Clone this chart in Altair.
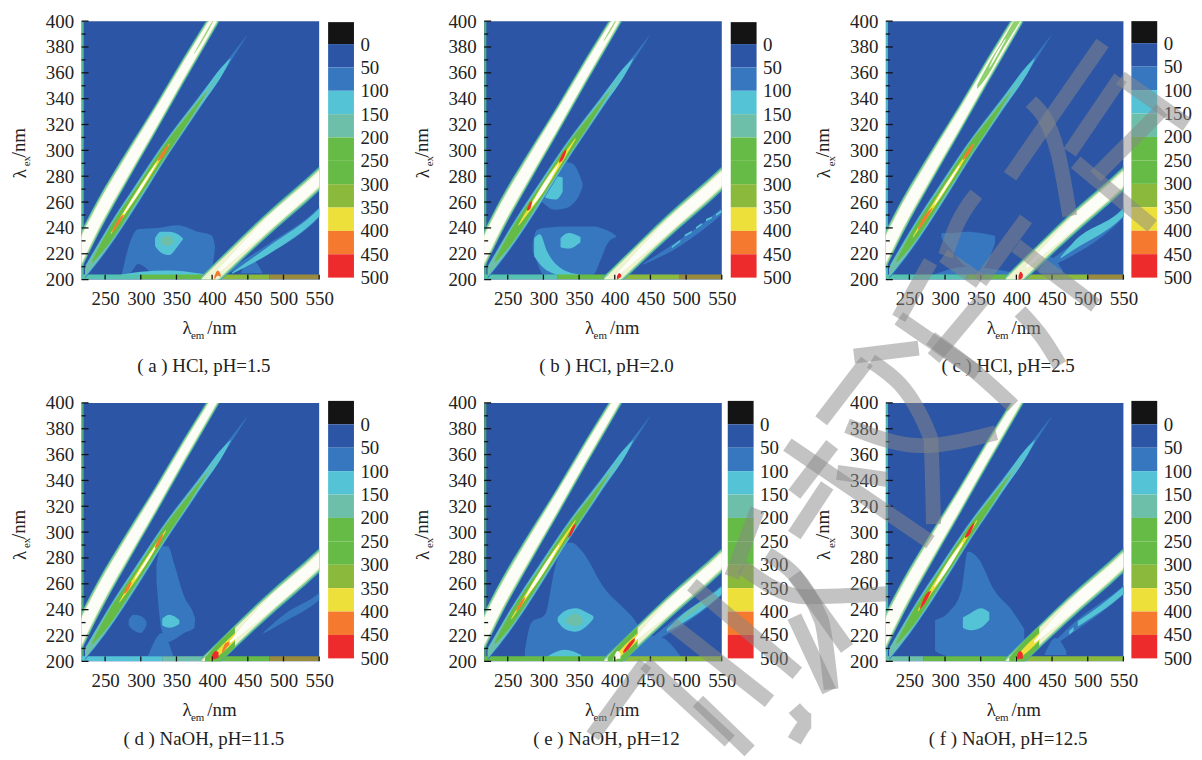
import altair as alt

alt.data_transformers.disable_max_rows()

FONT = "Liberation Serif"
BG = "#2c55a6"
LEVELS = [-50, 0, 50, 100, 150, 200, 250, 300, 350, 400, 450, 500]
BAND_COLORS = ["#141414", "#2c55a6", "#3677c0", "#55c3d6", "#6dbfa9", "#66bb46",
               "#66bb46", "#8ab93c", "#eee03a", "#f5792e", "#ed2b2c"]
LEVEL_TICKS = [0, 50, 100, 150, 200, 250, 300, 350, 400, 450, 500]
X_TICKS = [250, 300, 350, 400, 450, 500, 550]
Y_TICKS = [200, 220, 240, 260, 280, 300, 320, 340, 360, 380, 400]
Y_MINOR = [210, 230, 250, 270, 290, 310, 330, 350, 370, 390]
CAPTIONS = ["( a ) HCl, pH=1.5", "( b ) HCl, pH=2.0", "( c ) HCl, pH=2.5",
            "( d ) NaOH, pH=11.5", "( e ) NaOH, pH=12", "( f ) NaOH, pH=12.5"]

LB, CY, TE, GR, OL, YE, OR, RE, WH, PA = ("#3677c0", "#55c3d6", "#6dbfa9", "#66bb46", "#8ab93c",
                                          "#eee03a", "#f5792e", "#ed2b2c", "#fdfdf8", "#eef3d0")
RING_OUT, RING_MID = "#3fa8a8", "#8ccf9a"

A_EM = [215, 241, 280, 320, 360, 401, 425]
A_C = [221, 249.5, 287, 324, 362, 400, 423]
A_OUT = [15, 14, 12.5, 11, 10, 9, 9]
A_MID = [13.8, 12.8, 11.3, 9.8, 8.8, 7.8, 7.8]
A_PALE = [11.5, 10.5, 9.5, 8.2, 7.2, 6, 6]
A_CORE = [10, 9, 8, 7, 6, 4.8, 4.8]
B_EM = [222, 250, 300, 328, 380, 421, 449]
B_C = [206, 229, 271, 295, 335.5, 367, 389]
B_LB = [5, 8.5, 9, 8, 5.5, 2.5, 0.2]
B_CY_EM = [222, 250, 300, 328, 380, 421, 426]
B_CY_C = [206, 229, 271, 295, 335.5, 367, 371]
B_CY = [4, 7.5, 8, 7, 4.5, 1.8, 0.2]
B_TE_EM = [222, 250, 300, 328, 380, 395, 408]
B_TE_C = [206, 229, 271, 295, 335.5, 347, 357]
B_TE = [3.5, 6.5, 7, 6.3, 3.2, 1.5, 0.3]
B_GR_EM = [232, 250, 300, 328, 370, 392]
B_GR_C = [214, 229, 271, 295, 327.5, 345]
B_GR = [1, 5, 5.5, 5.3, 2.5, 0.3]
C_EM = [385, 400, 472, 550, 565]
C_C = [194, 202, 240, 278, 286]
C_OUT = [9, 9, 9.5, 9.5, 9.5]
C_MID = [8, 8, 8.3, 8.3, 8.3]
C_PALE = [6.5, 6.5, 6.8, 6.8, 6.8]


def rib(color, em, cen, half):
    return {"c": color, "em": em, "lo": [a - b for a, b in zip(cen, half)], "hi": [a + b for a, b in zip(cen, half)]}


def blob(color, em, lo, hi):
    return {"c": color, "em": em, "lo": lo, "hi": hi}


def strip(color, em0, em1):
    return blob(color, [em0, em1], [200, 200], [204, 204])


BLOBS = [
    [
        blob(LB, [273, 287, 296, 324, 352, 380, 400, 404], [203, 206, 212, 203, 203, 203, 210, 225],
             [203, 232, 239, 240, 242, 237, 234, 226]),
        blob(CY, [320, 328, 340, 352, 359], [226, 221, 219, 226, 231], [232, 237, 237, 235, 232]),
        blob(TE, [328, 338, 346], [228, 226, 229], [232, 234, 232]),
        blob(CY, [273, 300, 340, 380, 392], [203, 203, 203, 203, 203], [204, 206, 207, 205, 204]),
        blob(LB, [440, 455, 470], [205, 205, 205], [205, 216, 206]),
    ],
    [
        blob(LB, [292, 300, 315, 330, 340, 350, 355], [263, 259, 254, 255, 258, 265, 272], [264, 275, 285, 291, 290, 282, 274]),
        blob(CY, [296, 305, 318, 327], [270, 263, 262, 268], [271, 278, 280, 279]),
        blob(LB, [285, 290, 300, 340, 370, 380, 390, 402], [222, 215, 204, 203, 204, 215, 228, 233],
             [228, 238, 240, 241, 241, 240, 238, 234]),
        blob(CY, [287, 295, 305, 330, 350], [218, 212, 207, 203, 203], [232, 235, 222, 207, 204]),
        blob(CY, [324, 335, 352], [225, 224, 229], [232, 236, 233]),
    ],
    [
        blob(LB, [295, 310, 330, 350, 370], [232, 222, 210, 208, 228], [236, 236, 237, 236, 234]),
        blob(LB, [280, 330, 400], [203, 203, 203], [203, 210, 205]),
        blob(LB, [432, 445, 465], [205, 205, 205], [206, 218, 207]),
    ],
    [
        blob(LB, [322, 329, 338, 347, 361, 375, 376], [262, 225, 215, 217, 222, 226, 232], [275, 289, 289, 275, 250, 235, 233]),
        blob(LB, [283, 290, 300, 308], [228, 224, 222, 228], [232, 236, 235, 231]),
        blob(LB, [310, 330, 345], [204, 204, 204], [204, 222, 205]),
        blob(CY, [330, 340, 354], [228, 226, 229], [233, 236, 232]),
    ],
    [
        blob(LB, [274, 283, 302, 316, 327, 339, 353, 385, 422, 445, 468, 492], [203] * 12,
             [208, 230, 236, 272, 290, 292, 286, 257, 236, 221, 218, 204]),
        blob(CY, [320, 330, 345, 360, 370], [231, 225, 223, 227, 233], [234, 239, 241, 238, 235]),
        blob(TE, [332, 345, 355], [230, 227, 230], [233, 237, 233]),
        blob(CY, [306, 330, 353], [203, 203, 203], [204, 209, 205]),
    ],
    [
        blob(LB, [286, 305, 323, 332, 346, 369, 393, 411], [208, 204, 204, 204, 204, 204, 204, 205],
             [232, 238, 255, 285, 280, 255, 240, 225]),
        blob(CY, [325, 335, 350, 362], [226, 224, 226, 232], [234, 237, 241, 238]),
        blob(LB, [440, 455, 470], [205, 205, 205], [206, 218, 208]),
    ],
]

CORES = [
    [rib(YE, [258, 300, 340], [235.5, 271, 305], [0.6, 2.5, 0.6]), rib(WH, [275, 300, 322], [250, 271, 290], [0.6, 1.8, 0.6]),
     rib(OR, [260, 268, 276], [237, 244, 250], [0.6, 2, 0.6]), rib(OR, [324, 332, 339], [292, 298, 304], [0.6, 2.2, 0.6])],
    [rib(YE, [265, 300, 345], [242, 271, 309], [0.6, 3.5, 0.6]), rib(WH, [282, 300, 321], [256, 271, 289], [0.6, 3, 0.6]),
     rib(RE, [277, 281, 284], [254, 257, 260], [0.6, 2.5, 0.6]), rib(RE, [322, 328, 332], [291, 296, 300], [0.6, 2.5, 0.6])],
    [rib(YE, [255, 300, 340], [233, 271, 305], [0.6, 2.5, 0.6]), rib(WH, [285, 300, 320], [258, 271, 288], [0.6, 1.6, 0.6]),
     rib(OR, [262, 270, 282], [239, 246, 255], [0.6, 2.2, 0.6]), rib(OR, [325, 333, 340], [293, 299, 305], [0.6, 2.2, 0.6])],
    [rib(YE, [270, 300, 335], [246, 271, 301], [0.6, 2.5, 0.6]), rib(WH, [292, 305, 320], [264, 275, 288], [0.6, 1.5, 0.6]),
     rib(OR, [277, 282, 287], [253, 257, 261], [0.6, 2.3, 0.6]), rib(OR, [320, 326, 331], [288, 293, 298], [0.6, 2.3, 0.6])],
    [rib(YE, [255, 300, 345], [233, 271, 309], [0.6, 3, 0.6]), rib(WH, [275, 300, 322], [250, 271, 290], [0.6, 2.5, 0.6]),
     rib(OR, [262, 268, 274], [239, 244, 249], [0.6, 2, 0.6]), rib(RE, [335, 340, 345], [296, 301, 306], [0.6, 2.3, 0.6])],
    [rib(YE, [262, 300, 345], [239, 271, 309], [0.6, 3.2, 0.6]), rib(WH, [285, 305, 325], [258, 275, 292], [0.6, 2.8, 0.6]),
     rib(RE, [265, 272, 280], [241, 248, 254], [0.6, 2.8, 0.6]), rib(RE, [328, 335, 341], [296, 301, 307], [0.6, 2.5, 0.6])],
]

A_CORE_PANEL = [
    [rib("#a5d87a", [375, 395, 405], [375, 394, 404], [0.5, 1.2, 0.5])],
    [rib("#a5d87a", [385, 398, 405], [385, 397, 404], [0.5, 1.2, 0.5])],
    [rib("#8fd070", [345, 360, 378, 405], [349, 362, 379, 404], [1.5, 4, 3.5, 4.5]),
     rib(WH, [362, 372, 385], [364, 374, 386], [0.5, 1.5, 0.5])],
    [],
    [],
    [],
]
C_START = [404, 402, 414, 425, 428, 425]
C_START_Y = [204, 203, 209.5, 215, 216.6, 215]
C_LOW = [
    [rib(OR, [403, 408, 412], [201, 205, 203], [1.5, 2, 1])],
    [rib(RE, [403, 406, 409], [201, 203, 203], [1.5, 2, 1])],
    [rib(RE, [403, 406, 409], [201, 203, 203], [2, 3, 1])],
    [rib(GR, [390, 415, 432], [197, 210, 219], [6, 8, 8]), rib(YE, [398, 415, 432], [201, 210, 219], [1.5, 3, 3]),
     rib(RE, [400, 405, 409], [203, 205, 205], [2, 3, 2]), rib(OR, [414, 419, 424], [207, 212, 214], [1, 2.2, 1])],
    [rib(GR, [390, 415, 432], [197, 210, 219], [6, 8, 8]), rib(YE, [398, 415, 432], [201, 210, 219], [1.5, 3, 3]),
     rib(WH, [400, 404, 408], [203, 205, 204], [2, 3, 2]), rib(RE, [412, 420, 428], [207, 212, 217], [1, 2.2, 1])],
    [rib(GR, [390, 415, 432], [197, 210, 219], [6, 8, 8]), rib(YE, [398, 415, 432], [201, 210, 219], [1.5, 3, 3]),
     rib(RE, [401, 405, 409], [203, 205, 204], [2, 3, 2])],
]
D_RIBS = [
    [rib(LB, [418, 480, 550, 560], [205, 224, 252, 258], [1, 4, 4, 4]), rib(CY, [428, 480, 550, 560], [205, 223, 252, 258], [0.5, 3, 3, 3])],
    [rib(LB, [440, 490, 550, 560], [212, 228, 253, 258], [0.5, 2.5, 2.5, 2.5]), rib(CY, [480, 492], [225, 230], [0.8, 0.8]),
     rib(CY, [498, 508], [234, 237], [0.8, 0.8]), rib(CY, [514, 522], [240, 243], [0.8, 0.8]), rib(CY, [528, 536], [246, 248], [0.8, 0.8]),
     rib(CY, [542, 550], [250, 253], [0.8, 0.8])],
    [rib(LB, [432, 470, 550, 560], [208, 220, 252, 258], [1, 4, 4, 4]), rib(CY, [462, 480, 550, 560], [217, 226, 252, 258], [0.5, 3, 3, 3])],
    [rib(LB, [472, 500, 550, 560], [222, 233, 250, 255], [0.5, 2.8, 2.8, 2.8])],
    [rib(LB, [440, 480, 550, 560], [212, 227, 255, 260], [0.5, 4, 4, 4]), rib(CY, [473, 490, 550, 560], [224, 231, 255, 260], [1, 3, 3, 3]),
     rib(TE, [490, 510, 535], [231, 240, 249], [0.5, 1.8, 0.5])],
    [rib(LB, [445, 480, 550, 560], [210, 226, 255, 260], [0.5, 3.5, 3.5, 3.5]), rib(CY, [474, 480], [222, 225], [1.5, 1.5]),
     rib(CY, [486, 550, 560], [229, 255, 260], [2, 2.8, 2.8])],
]
BOTTOM = [
    [("#55c3b0", 217, 300), (GR, 300, 395), (OL, 395, 480), ("#9a8a3c", 480, 550)],
    [("#55c3b0", 217, 320), (GR, 320, 395), (OL, 395, 490), ("#9a8a3c", 490, 550)],
    [("#55c3b0", 217, 330), (GR, 330, 400), (OL, 400, 500), ("#9a8a3c", 500, 550)],
    [(CY, 217, 330), (TE, 330, 390), (GR, 390, 480), ("#9a8a3c", 480, 550)],
    [(GR, 217, 400), (OL, 400, 550)],
    [(TE, 217, 270), (GR, 270, 400), (OL, 400, 550)],
]
LEFT_COLOR = ["#54b89a", "#54b07a", "#4fb8c0", "#4fa878", "#4fa060", "#4fb8b0"]

WM = [
    [(1110, 43), (1017, 177)],
    [(1038, 102), (1065, 153), (1077, 217)],
    [(1128, 78), (1077, 153)],
    [(1128, 78), (1195, 125)],
    [(1083, 163), (1160, 227)],
    [(1170, 110), (1103, 177)],
    [(983, 195), (963, 227), (952, 257)],
    [(1033, 220), (987, 283)],
    [(950, 257), (987, 283)],
    [(1023, 247), (1103, 307)],
    [(937, 263), (905, 320)],
    [(905, 320), (985, 375)],
    [(990, 300), (940, 360)],
    [(1027, 313), (1050, 340), (1067, 367)],
    [(873, 363), (827, 423)],
    [(877, 363), (937, 440), (940, 527)],
    [(853, 428), (927, 448), (1003, 435)],
    [(937, 340), (980, 372), (1020, 408)],
    [(838, 447), (800, 497)],
    [(793, 447), (937, 545)],
    [(843, 475), (893, 482)],
    [(747, 570), (810, 600), (893, 597)],
    [(763, 512), (737, 580)],
    [(773, 557), (827, 623), (837, 693)],
    [(697, 588), (803, 677)],
    [(677, 628), (775, 705)],
    [(650, 667), (597, 740)],
    [(650, 667), (735, 745)],
    [(703, 705), (755, 755)],
    [(833, 488), (800, 538)],
    [(800, 578), (853, 652)],
    [(800, 620), (835, 695)],
    [(800, 712), (817, 725), (800, 745)],
    [(860, 358), (925, 350)],
]
WM_LEFT, WM_TOP = 1139, 405

PLOT_W, PLOT_H, BAR_W = 239, 260, 26
BAR_DX = [0, 0, 0, 0, -3, 0]
BAR_RANGE = [[1, 258], [1, 258], [0, 258], [-2, 257], [-2, 257], [-2, 257]]
BAR_LOW = [-47, -47, -47, -50, -50, -50]
CAP_Y = [347, 347, 347, 338.5, 338.5, 338.5]


def shapes_for(i):
    out = [blob(LEFT_COLOR[i], [217, 220], [200, 200], [400, 400])]
    out += BLOBS[i]
    for c, a, b in BOTTOM[i]:
        out.append(strip(c, a, b))
    out += [rib(RING_OUT, A_EM, A_C, A_OUT), rib(RING_MID, A_EM, A_C, A_MID), rib(PA, A_EM, A_C, A_PALE), rib(WH, A_EM, A_C, A_CORE)]
    out += A_CORE_PANEL[i]
    out += [rib(LB, B_EM, B_C, B_LB), rib(CY, B_CY_EM, B_CY_C, B_CY), rib(TE, B_TE_EM, B_TE_C, B_TE), rib(GR, B_GR_EM, B_GR_C, B_GR)]
    out += CORES[i]
    out += D_RIBS[i]
    out += [rib(RING_OUT, C_EM, C_C, C_OUT), rib(RING_MID, C_EM, C_C, C_MID), rib(PA, C_EM, C_C, C_PALE)]
    out += C_LOW[i][:2] if i > 2 else []
    out.append(rib(WH, [C_START[i], 472, 550, 565], [C_START_Y[i], 240, 278, 286], [1, 5.2, 5.2, 5.2]))
    out += C_LOW[i][2:] if i > 2 else C_LOW[i]
    return out


def rows_for(i):
    rows = []
    for k, sh in enumerate(shapes_for(i)):
        for e, l, h in zip(sh["em"], sh["lo"], sh["hi"]):
            rows.append({"s": f"{k:03d}", "c": sh["c"], "em": e, "lo": l, "hi": h})
    return rows


XS = alt.Scale(domain=[217, 550], nice=False, zero=False)
YS = alt.Scale(domain=[200, 400], nice=False, zero=False)
XAXIS = alt.Axis(values=X_TICKS, labelFont=FONT, labelFontSize=19, labelColor="#222", tickSize=0, labelFlush=False,
                 domain=False, grid=False, title=None, labelPadding=10, labelOverlap=False)
YAXIS = alt.Axis(values=Y_TICKS, labelFont=FONT, labelFontSize=19, labelColor="#222", tickSize=0, labelFlush=False,
                 domain=False, grid=False, title=None, labelPadding=8, labelOverlap=False)


def label(txt, x, y, size=19, angle=0, align="left"):
    return alt.Chart(alt.Data(values=[{"a": 1}])).mark_text(text=txt, font=FONT, fontSize=size, angle=angle, color="#222",
                                                             align=align, baseline="middle").encode(
        x=alt.value(x), y=alt.value(y))


def plot_panel(i):
    bg = alt.Chart(alt.Data(values=[{"x": 217, "x2": 550, "y": 200, "y2": 400}])).mark_rect(color=BG).encode(
        x=alt.X("x:Q", scale=XS, axis=XAXIS), x2="x2:Q", y=alt.Y("y:Q", scale=YS, axis=YAXIS), y2="y2:Q")
    area = alt.Chart(alt.Data(values=rows_for(i))).mark_area(clip=True, interpolate="monotone").encode(
        x=alt.X("em:Q", scale=XS, axis=XAXIS), y=alt.Y("lo:Q", scale=YS, axis=YAXIS), y2="hi:Q",
        color=alt.Color("c:N", scale=None, legend=None), detail="s:N")
    ty = alt.Chart(alt.Data(values=[{"y": v} for v in Y_TICKS])).mark_rule(color="#111", strokeWidth=1.3).encode(
        x=alt.value(0), x2=alt.value(7), y=alt.Y("y:Q", scale=YS, axis=YAXIS))
    tm = alt.Chart(alt.Data(values=[{"y": v} for v in Y_MINOR])).mark_rule(color="#111", strokeWidth=1.3).encode(
        x=alt.value(0), x2=alt.value(4), y=alt.Y("y:Q", scale=YS, axis=YAXIS))
    tx = alt.Chart(alt.Data(values=[{"x": v} for v in X_TICKS])).mark_rule(color="#111", strokeWidth=1.3).encode(
        x=alt.X("x:Q", scale=XS, axis=XAXIS), y=alt.value(PLOT_H), y2=alt.value(PLOT_H - 5))
    txts = [
        label("λ", 101.5, 49 + PLOT_H, 19), label("em", 110, 57 + PLOT_H, 11), label("/nm", 126.5, 49 + PLOT_H, 19),
        label("λ", -62, 158, 19, 270), label("ex", -54.5, 146, 11, 270), label("/nm", -63, 137, 19, 270),
        label(CAPTIONS[i], 123, CAP_Y[i], 19, 0, "center"),
    ]
    return alt.layer(bg, area, ty, tm, tx, *txts).properties(width=PLOT_W, height=PLOT_H)


def bar_panel(i):
    rows = [{"a": LEVELS[k] if k else BAR_LOW[i], "b": LEVELS[k + 1], "c": BAND_COLORS[k]} for k in range(len(BAND_COLORS))]
    bar = alt.Chart(alt.Data(values=rows)).mark_rect().encode(
        x=alt.value(BAR_DX[i]), x2=alt.value(BAR_DX[i] + BAR_W),
        y=alt.Y("a:Q", scale=alt.Scale(domain=[BAR_LOW[i], 500], range=BAR_RANGE[i], nice=False, zero=False),
                axis=alt.Axis(orient="right", values=LEVEL_TICKS, labelFont=FONT, labelFontSize=19, labelColor="#222",
                              tickSize=0, domain=False, grid=False, title=None, labelPadding=6, labelOverlap=False,
                              labelFlush=False, offset=BAR_DX[i])),
        y2="b:Q", color=alt.Color("c:N", scale=None, legend=None))
    if i < 5:
        return bar.properties(width=BAR_W, height=PLOT_H)
    rows_w = []
    for k, s in enumerate(WM):
        for j, (px, py) in enumerate(s):
            rows_w.append({"k": k, "j": j, "px": px - WM_LEFT, "py": py - WM_TOP})
    wm = alt.Chart(alt.Data(values=rows_w)).mark_line(color="#888888", opacity=0.5, strokeWidth=15, strokeCap="butt",
                                                       interpolate="monotone", clip=False).encode(
        x=alt.X("px:Q", scale=None, axis=None), y=alt.Y("py:Q", scale=None, axis=None), detail="k:N", order="j:Q")
    return alt.layer(bar, wm).resolve_scale(y="independent", x="independent").resolve_axis(y="independent").properties(width=BAR_W, height=PLOT_H)


def spacer(w):
    return alt.Chart(alt.Data(values=[{"a": 1}])).mark_point(opacity=0).encode(
        x=alt.value(0), y=alt.value(0)).properties(width=w, height=10)


GAPS = [9, 131, 8.5, 130, 8]
cells = []
for row in (0, 3):
    cells += [plot_panel(row), spacer(GAPS[0]), bar_panel(row), spacer(GAPS[1]),
              plot_panel(row + 1), spacer(GAPS[2]), bar_panel(row + 1), spacer(GAPS[3]),
              plot_panel(row + 2), spacer(GAPS[4]), bar_panel(row + 2)]

chart = alt.concat(*cells, columns=11, spacing={"column": 0, "row": 124}, bounds="flush").configure_view(stroke=None).properties(
    background="white", padding={"left": 2, "top": 2, "right": -23, "bottom": -26})

chart.save("out.html", embed_options={"renderer": "svg", "actions": False})
